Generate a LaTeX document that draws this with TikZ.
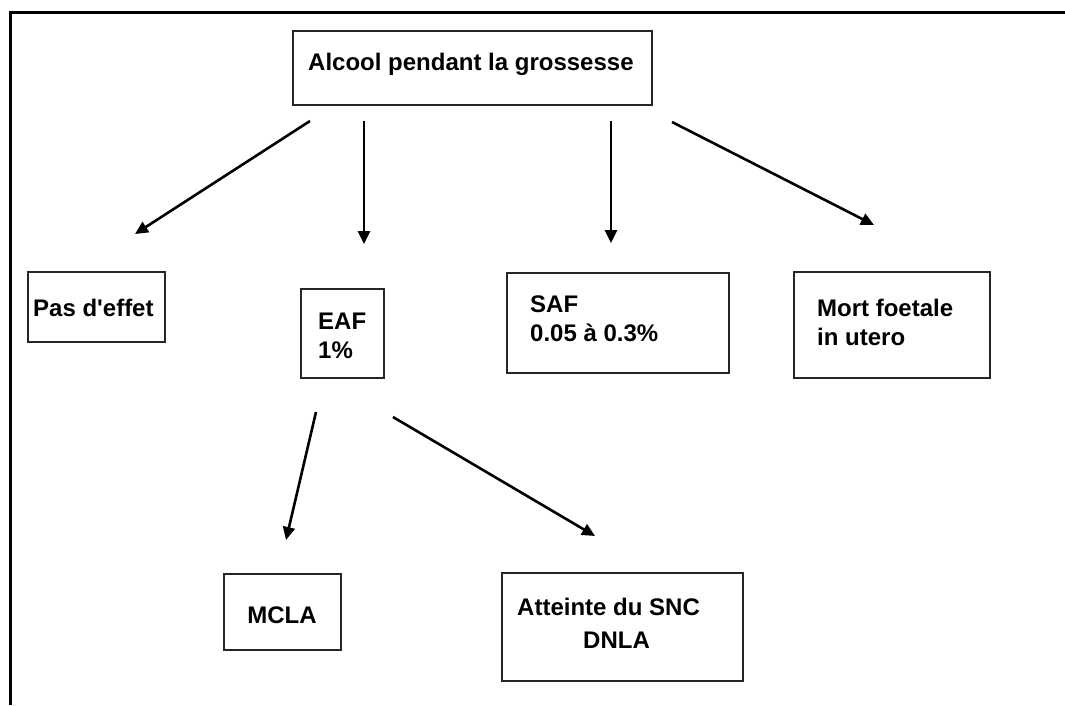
\documentclass[tikz,border=0pt]{standalone}
\usepackage{fontspec}
\setmainfont{Liberation Sans}
\usetikzlibrary{arrows.meta}
\begin{document}
\begin{tikzpicture}[x=1pt,y=-1pt,
  box/.style={draw=black!85,line width=1.8pt,inner sep=0pt,anchor=north west},
  txt/.style={inner sep=0pt,font=\fontsize{24}{29}\selectfont\bfseries,align=left},
  arr/.style={line width=2.6pt,-{Triangle[length=13pt,width=12pt]}}]
\useasboundingbox (0,0) rectangle (1065,705);
% frame
\draw[line width=3pt] (10,705) -- (10,12) -- (1065,12);
% boxes
\node[box,minimum width=359pt,minimum height=74pt] (top) at (292,30) {};
\node[box,minimum width=137pt,minimum height=70pt] (pas) at (27,271) {};
\node[box,minimum width=83pt,minimum height=89pt] (eaf) at (300,288) {};
\node[box,minimum width=222pt,minimum height=100pt] (saf) at (506,272) {};
\node[box,minimum width=196pt,minimum height=106pt] (mort) at (793,271) {};
\node[box,minimum width=117pt,minimum height=76pt] (mcla) at (223,573) {};
\node[box,minimum width=241pt,minimum height=108pt] (snc) at (501,572) {};
% texts
\node[txt,anchor=west] (topt) at (308,64) {Alcool pendant la grossesse};
\node[txt,anchor=west] (past) at (33,308) {Pas d\textquotesingle effet};
\node[txt,anchor=west] (eaft) at (318,336) {EAF\\1\%};
\node[txt,anchor=west] (saft) at (530,319) {SAF\\0.05 à 0.3\%};
\node[txt,anchor=west] (mortt) at (817,322) {Mort foetale\\in utero};
\node[txt,anchor=center] (mclat) at (282,615) {MCLA};
\node[txt,anchor=west] (snct) at (517,607) {Atteinte du SNC};
\node[txt,anchor=west] (dnlat) at (583,640) {DNLA};
% arrow end points
\coordinate (a1s) at (310,121); \coordinate (a1e) at (135,234);
\coordinate (a2s) at (364,121); \coordinate (a2e) at (364,244);
\coordinate (a3s) at (611,121); \coordinate (a3e) at (611,243);
\coordinate (a4s) at (672,122); \coordinate (a4e) at (874,225);
\coordinate (a5s) at (316,412); \coordinate (a5e) at (286,540);
\coordinate (a6s) at (393,417); \coordinate (a6e) at (595,536);
\draw[arr] (a1s) -- (a1e);
\draw[arr] (a2s) -- (a2e);
\draw[arr] (a3s) -- (a3e);
\draw[arr] (a4s) -- (a4e);
\draw[arr] (a5s) -- (a5e);
\draw[arr] (a6s) -- (a6e);
\end{tikzpicture}
\end{document}
